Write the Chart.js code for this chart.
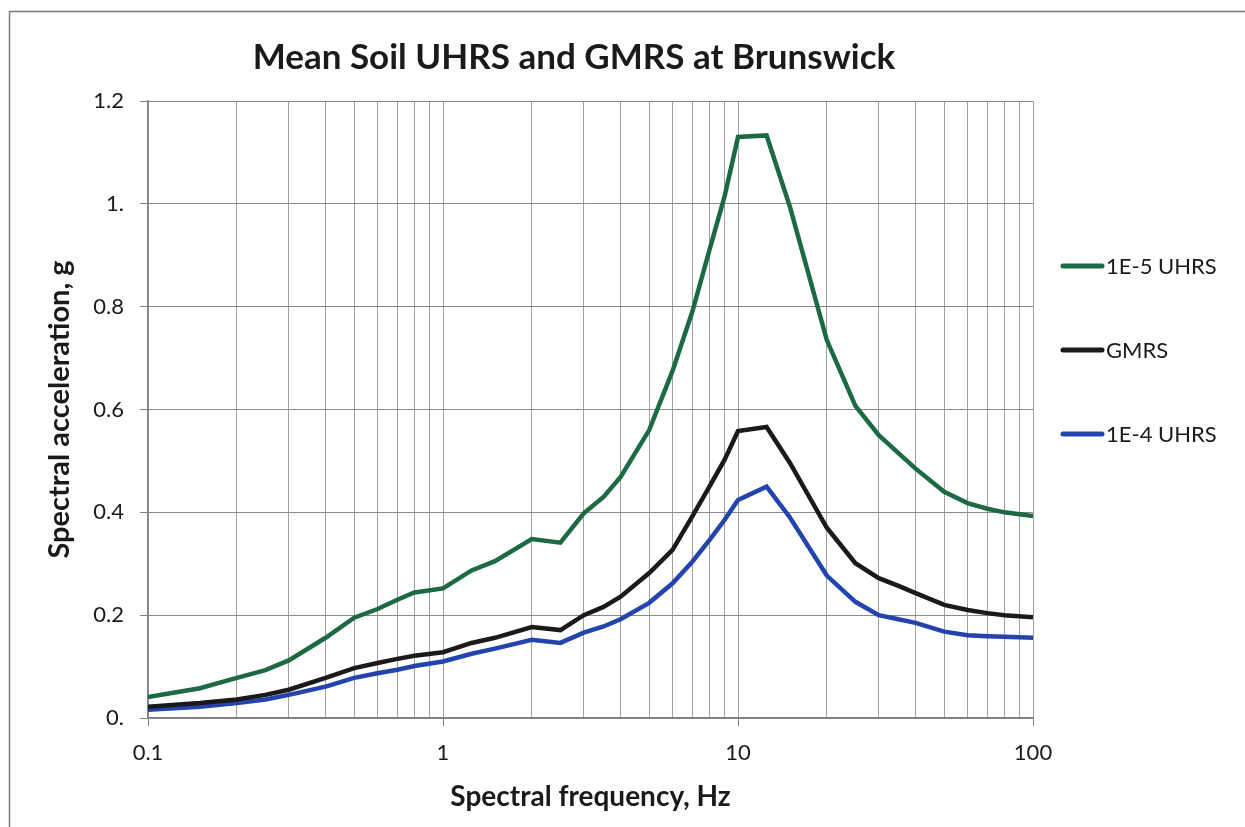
<!DOCTYPE html>
<html>
<head>
<meta charset="utf-8">
<script src="https://cdn.jsdelivr.net/npm/chart.js@4"></script>
<style>
  body { margin: 0; background: #fff; }
  canvas { display: block; }
</style>
</head>
<body>
<canvas id="uhrs-chart" width="1245" height="827"></canvas>
<script>
// spectral frequency, Hz
const freqs = [0.1, 0.15, 0.2, 0.25, 0.3, 0.4, 0.5, 0.6, 0.7, 0.8, 1, 1.25, 1.5, 2, 2.5, 3, 3.5, 4, 5, 6, 7, 8, 9, 10, 12.5, 15, 20, 25, 30, 35, 40, 50, 60, 70, 80, 100];
// spectral acceleration, g
const uhrs1e5 = [0.041, 0.058, 0.078, 0.093, 0.112, 0.156, 0.195, 0.212, 0.23, 0.244, 0.252, 0.287, 0.305, 0.348, 0.341, 0.398, 0.43, 0.469, 0.56, 0.675, 0.79, 0.91, 1.014, 1.13, 1.133, 0.994, 0.735, 0.607, 0.55, 0.515, 0.485, 0.44, 0.418, 0.407, 0.4, 0.393];
const gmrs = [0.022, 0.029, 0.036, 0.045, 0.055, 0.078, 0.097, 0.107, 0.115, 0.121, 0.128, 0.146, 0.156, 0.177, 0.171, 0.2, 0.216, 0.236, 0.282, 0.327, 0.392, 0.45, 0.502, 0.558, 0.566, 0.496, 0.37, 0.301, 0.272, 0.257, 0.243, 0.22, 0.21, 0.204, 0.2, 0.196];
const uhrs1e4 = [0.016, 0.022, 0.029, 0.036, 0.045, 0.061, 0.078, 0.087, 0.094, 0.101, 0.11, 0.125, 0.135, 0.152, 0.146, 0.166, 0.178, 0.192, 0.224, 0.262, 0.304, 0.346, 0.385, 0.424, 0.45, 0.39, 0.277, 0.226, 0.2, 0.192, 0.185, 0.168, 0.161, 0.159, 0.158, 0.156];

const seriesNames = ['1E-5 UHRS', 'GMRS', '1E-4 UHRS'];
const xTickValues = [0.1, 1, 10, 100];
const xTickLabels = ['0.1', '1', '10', '100'];
const yTickLabels = ['0.', '0.2', '0.4', '0.6', '0.8', '1.', '1.2'];

const FONT = 'Lato, "Open Sans", sans-serif';
const colors = ['#1c6a44', '#1a1a1a', '#2343ad'];

function toPoints(values) {
  return freqs.map((f, i) => ({ x: f, y: values[i] }));
}

function isDecade(v) {
  return xTickValues.some(d => Math.abs(d - v) < 1e-9);
}

// frame, title and legend drawn around the chart
const decorations = {
  id: 'decorations',
  beforeDraw(chart) {
    const ctx = chart.ctx;
    ctx.save();
    ctx.fillStyle = '#fff';
    ctx.fillRect(0, 0, chart.width, chart.height);
    ctx.strokeStyle = '#7a7a7a';
    ctx.lineWidth = 1.5;
    ctx.strokeRect(9.5, 11.5, 1250, 830);
    ctx.restore();
  },
  afterDraw(chart) {
    const ctx = chart.ctx;
    ctx.save();
    ctx.fillStyle = '#1a1a1a';
    ctx.font = 'bold 35px ' + FONT;
    ctx.textAlign = 'center';
    ctx.textBaseline = 'alphabetic';
    ctx.fillText('Mean Soil UHRS and GMRS at Brunswick', 574, 69);

    ctx.font = '22px ' + FONT;
    ctx.textAlign = 'left';
    ctx.textBaseline = 'middle';
    chart.data.datasets.forEach((ds, i) => {
      const y = 266 + i * 84;
      ctx.strokeStyle = ds.borderColor;
      ctx.lineWidth = 5;
      ctx.lineCap = 'round';
      ctx.beginPath();
      ctx.moveTo(1063, y);
      ctx.lineTo(1102, y);
      ctx.stroke();
      ctx.fillStyle = '#1a1a1a';
      ctx.fillText(ds.label, 1106, y + 1);
    });
    ctx.restore();
  }
};

new Chart(document.getElementById('uhrs-chart'), {
  type: 'line',
  data: {
    datasets: [uhrs1e5, gmrs, uhrs1e4].map((vals, i) => ({
      label: seriesNames[i],
      data: toPoints(vals),
      borderColor: colors[i],
      backgroundColor: colors[i],
      borderWidth: 4.5,
      pointRadius: 0,
      tension: 0,
      fill: false
    }))
  },
  options: {
    responsive: false,
    animation: false,
    devicePixelRatio: 1,
    layout: { padding: { left: 0, top: 101, right: 212, bottom: 0 } },
    plugins: {
      legend: { display: false },
      title: { display: false },
      tooltip: { enabled: false }
    },
    scales: {
      x: {
        type: 'logarithmic',
        min: 0.1,
        max: 100,
        afterBuildTicks(scale) {
          const ticks = [];
          for (let e = -1; e <= 1; e++) {
            for (let m = 1; m <= 9; m++) {
              ticks.push({ value: parseFloat((m * Math.pow(10, e)).toPrecision(3)) });
            }
          }
          ticks.push({ value: 100 });
          scale.ticks = ticks;
        },
        afterFit(scale) { scale.height = 109; },
        grid: {
          color: '#a0a0a0',
          lineWidth: 1,
          tickLength: 8,
          tickColor: ctx => (ctx.tick && isDecade(ctx.tick.value)) ? '#7f7f7f' : 'rgba(0,0,0,0)'
        },
        border: { color: '#7f7f7f', width: 1.5 },
        ticks: {
          autoSkip: false,
          maxRotation: 0,
          padding: 14,
          color: '#1a1a1a',
          font: { family: FONT, size: 22 },
          callback: v => {
            const i = xTickValues.findIndex(d => Math.abs(d - v) < 1e-9);
            return i >= 0 ? xTickLabels[i] : '';
          }
        },
        title: {
          display: true,
          text: 'Spectral frequency, Hz',
          color: '#1a1a1a',
          font: { family: FONT, size: 28, weight: 'bold' },
          padding: { top: 0, bottom: 13 }
        }
      },
      y: {
        min: 0,
        max: 1.2,
        afterFit(scale) { scale.width = 148; },
        ticks: {
          stepSize: 0.2,
          padding: 16,
          color: '#1a1a1a',
          font: { family: FONT, size: 22 },
          callback: (v, i) => yTickLabels[i]
        },
        grid: { color: '#8a8a8a', lineWidth: 1, tickLength: 8, tickColor: '#7f7f7f' },
        border: { color: '#7f7f7f', width: 1.5 },
        title: {
          display: true,
          text: 'Spectral acceleration, g',
          color: '#1a1a1a',
          font: { family: FONT, size: 29, weight: 'bold' },
          padding: { top: 42, bottom: 0 }
        }
      }
    }
  },
  plugins: [decorations]
});
</script>
</body>
</html>
